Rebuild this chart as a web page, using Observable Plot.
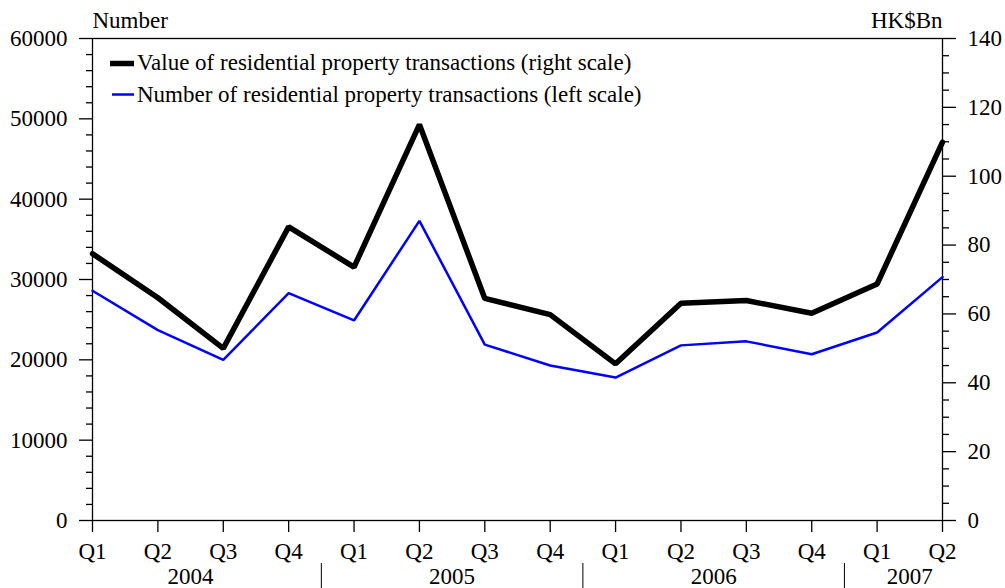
<!DOCTYPE html>
<html><head><meta charset="utf-8">
<script src="https://cdn.jsdelivr.net/npm/d3@7"></script>
<script src="https://cdn.jsdelivr.net/npm/@observablehq/plot@0.6"></script>
<style>
body{margin:0;background:#fff;}
#wrap{position:relative;width:1005px;height:588px;font-family:"Liberation Serif","Times New Roman",serif;}
#wrap svg, #wrap svg text{font-family:"Liberation Serif","Times New Roman",serif !important;}
#legend{position:absolute;left:0;top:0;pointer-events:none;}
#legend text{font-size:23px;fill:#000;}
</style></head><body><div id="wrap"></div>
<script>
const quarters = ["Q1","Q2","Q3","Q4","Q1","Q2","Q3","Q4","Q1","Q2","Q3","Q4","Q1","Q2"];
const years = ["2004","2005","2006","2007"];
const yearCenters = [1.5, 5.5, 9.5, 12.5];
const yearBreaks = [3.5, 7.5, 11.5];
const numberTx = [28600,23700,20000,28300,24900,37300,21900,19300,17800,21800,22300,20700,23400,30300];
const valueTx = [77.5,64.7,50.0,85.3,73.6,115.0,64.5,59.8,45.5,63.1,63.9,60.2,68.7,109.9];
const leftTicks = [0,10000,20000,30000,40000,50000,60000];
const leftMinor = d3.range(0, 60001, 2000).filter(v => v % 10000 !== 0);
const rightTicks = [0,20,40,60,80,100,120,140];
const rightMinor = d3.range(0, 141, 5).filter(v => v % 20 !== 0);
const seriesNames = ["Value of residential property transactions (right scale)","Number of residential property transactions (left scale)"];

const k = 60000 / 140;
const data = quarters.map((q, i) => ({i, q, number: numberTx[i], value: valueTx[i]}));

const chart = Plot.plot({
  width: 1005, height: 588,
  marginLeft: 92, marginRight: 63, marginTop: 38, marginBottom: 68,
  style: {fontSize: "23px", color: "#000", background: "#fff"},
  x: {domain: [0, 13]},
  y: {domain: [0, 60000]},
  marks: [
    Plot.frame({stroke: "#000", strokeWidth: 1.3}),
    Plot.axisY(leftTicks, {anchor: "left", tickSize: 13, tickPadding: 12, strokeWidth: 1.3, tickFormat: d => String(d), label: null}),
    Plot.axisY(leftMinor, {anchor: "left", tickSize: 6, strokeWidth: 1.3, tickFormat: () => "", label: null}),
    Plot.axisY(rightTicks.map(v => v * k), {anchor: "right", tickSize: 13, tickPadding: 12, strokeWidth: 1.3, tickFormat: d => String(Math.round(d / k)), label: null}),
    Plot.axisY(rightMinor.map(v => v * k), {anchor: "right", tickSize: 6, strokeWidth: 1.3, tickFormat: () => "", label: null}),
    Plot.axisX(d3.range(quarters.length), {anchor: "bottom", tickSize: 12, tickPadding: 10, strokeWidth: 1.3, tickFormat: i => quarters[i], label: null}),
    Plot.axisX(yearCenters, {anchor: "bottom", tickSize: 0, tickPadding: 47, tickFormat: d => years[yearCenters.indexOf(d)], label: null}),
    Plot.axisX(yearBreaks, {anchor: "bottom", tickSize: 25, dy: 43, strokeWidth: 1, tickFormat: () => "", label: null}),
    Plot.line(data, {x: "i", y: "number", stroke: "#0000ff", strokeWidth: 2.5, strokeLinejoin: "miter"}),
    Plot.line(data, {x: "i", y: d => d.value * k, stroke: "#000", strokeWidth: 5.5, strokeLinejoin: "miter"}),
    Plot.text(["Number"], {text: d => d, frameAnchor: "top-left", textAnchor: "start", lineAnchor: "bottom", dy: -11}),
    Plot.text(["HK$Bn"], {text: d => d, frameAnchor: "top-right", textAnchor: "end", lineAnchor: "bottom", dy: -11})
  ]
});
const wrap = document.getElementById("wrap");
wrap.appendChild(chart);

const ns = "http://www.w3.org/2000/svg";
const lg = document.createElementNS(ns, "svg");
lg.setAttribute("id", "legend");
lg.setAttribute("width", 1005); lg.setAttribute("height", 588);
lg.innerHTML = `
<line x1="110" x2="134" y1="63.5" y2="63.5" stroke="#000" stroke-width="5.5"/>
<text x="137" y="70">${seriesNames[0]}</text>
<line x1="112" x2="134" y1="94.5" y2="94.5" stroke="#0000ff" stroke-width="2.5"/>
<text x="137" y="101.5">${seriesNames[1]}</text>`;
wrap.appendChild(lg);
</script></body></html>
